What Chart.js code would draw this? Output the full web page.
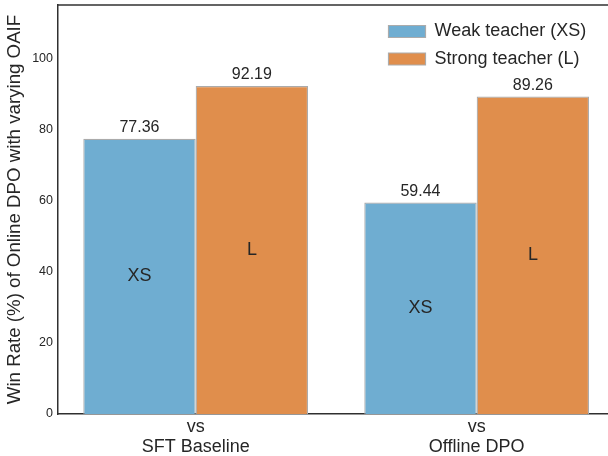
<!DOCTYPE html>
<html><head><meta charset="utf-8">
<script src="https://cdn.jsdelivr.net/npm/chart.js@4"></script>
<style>html,body{margin:0;padding:0;background:#fff;overflow:hidden;width:608px;height:456px}canvas{display:block}</style>
</head><body>
<canvas id="c" width="620" height="456"></canvas>
<script>
const categories = [['vs', 'SFT Baseline'], ['vs', 'Offline DPO']];
const seriesNames = ['Weak teacher (XS)', 'Strong teacher (L)'];
const seriesShort = ['XS', 'L'];
const weakValues = [77.36, 59.44];
const strongValues = [92.19, 89.26];
const yTicks = [0, 20, 40, 60, 80, 100];
const yMax = 115;
const xMin = -0.49;
const xMax = 1.51;
const yTitle = 'Win Rate (%) of Online DPO with varying OAIF';

const FONT = '"Liberation Sans", Arial, sans-serif';
const TXT = '#262626';
const SPINE = '#303030';

const barLabels = {
  id: 'barLabels',
  afterDatasetsDraw(chart) {
    const ctx = chart.ctx;
    chart.data.datasets.forEach((ds, di) => {
      const meta = chart.getDatasetMeta(di);
      meta.data.forEach((bar, i) => {
        ctx.save();
        ctx.fillStyle = TXT;
        ctx.textAlign = 'center';
        ctx.font = '16px ' + FONT;
        ctx.textBaseline = 'alphabetic';
        ctx.fillText(ds.data[i].y.toFixed(2), bar.x, bar.y - 7);
        ctx.font = '18px ' + FONT;
        ctx.textBaseline = 'middle';
        ctx.fillText(seriesShort[di], bar.x, (bar.y + bar.base) / 2);
        ctx.restore();
      });
    });
  }
};

const topSpine = {
  id: 'topSpine',
  afterDraw(chart) {
    const a = chart.chartArea, ctx = chart.ctx;
    ctx.save();
    ctx.strokeStyle = SPINE;
    ctx.lineWidth = 1.5;
    ctx.beginPath();
    ctx.moveTo(a.left - 0.75, a.top);
    ctx.lineTo(a.right, a.top);
    ctx.stroke();
    ctx.restore();
  }
};

const legendPos = {
  id: 'legendPos',
  beforeDraw(chart) {
    const L = chart.legend;
    const w = L.width;
    L.left = 379; L.top = 13; L.right = 379 + w; L.bottom = chart.chartArea.bottom;
  }
};

new Chart(document.getElementById('c'), {
  type: 'bar',
  data: {
    datasets: [
      { label: seriesNames[0], data: weakValues.map((v, i) => ({ x: i, y: v })), backgroundColor: '#6fadd1', borderColor: '#ababab', borderWidth: 1.2, categoryPercentage: 0.8, barPercentage: 1.0 },
      { label: seriesNames[1], data: strongValues.map((v, i) => ({ x: i, y: v })), backgroundColor: '#e08e4c', borderColor: '#ababab', borderWidth: 1.2, categoryPercentage: 0.8, barPercentage: 1.0 }
    ]
  },
  options: {
    responsive: false,
    animation: false,
    devicePixelRatio: 1,
    layout: { padding: { top: 5, left: 0, right: 0, bottom: 0 } },
    plugins: {
      tooltip: { enabled: false },
      legend: {
        position: 'chartArea',
        align: 'start',
        labels: { boxWidth: 37, boxHeight: 12, padding: 9.5, color: TXT, font: { family: FONT, size: 18 } }
      }
    },
    scales: {
      x: {
        type: 'linear',
        min: xMin,
        max: xMax,
        offset: false,
        afterBuildTicks(s) { s.ticks = categories.map((c, i) => ({ value: i })); },
        grid: { display: false, drawTicks: false, offset: false },
        border: { display: true, color: SPINE, width: 1.5 },
        ticks: { color: TXT, padding: 3.5, font: { family: FONT, size: 18, lineHeight: 1.08 }, maxRotation: 0, autoSkip: false,
                 callback: (v) => categories[v] },
        afterFit(s) { s.height = 42; s.paddingLeft = 0; s.paddingRight = 0; }
      },
      y: {
        min: 0,
        max: yMax,
        afterBuildTicks(s) { s.ticks = yTicks.map(v => ({ value: v })); },
        grid: { display: false, drawTicks: false },
        border: { display: true, color: SPINE, width: 1.5 },
        ticks: { color: TXT, padding: 5, font: { family: FONT, size: 12.5 } },
        title: { display: true, text: yTitle, color: TXT, font: { family: FONT, size: 18.7 }, padding: { top: 4, bottom: 0 } },
        afterFit(s) { s.width = 58; s.paddingTop = 0; s.paddingBottom = 0; }
      }
    }
  },
  plugins: [barLabels, topSpine, legendPos]
});
</script>
</body></html>
